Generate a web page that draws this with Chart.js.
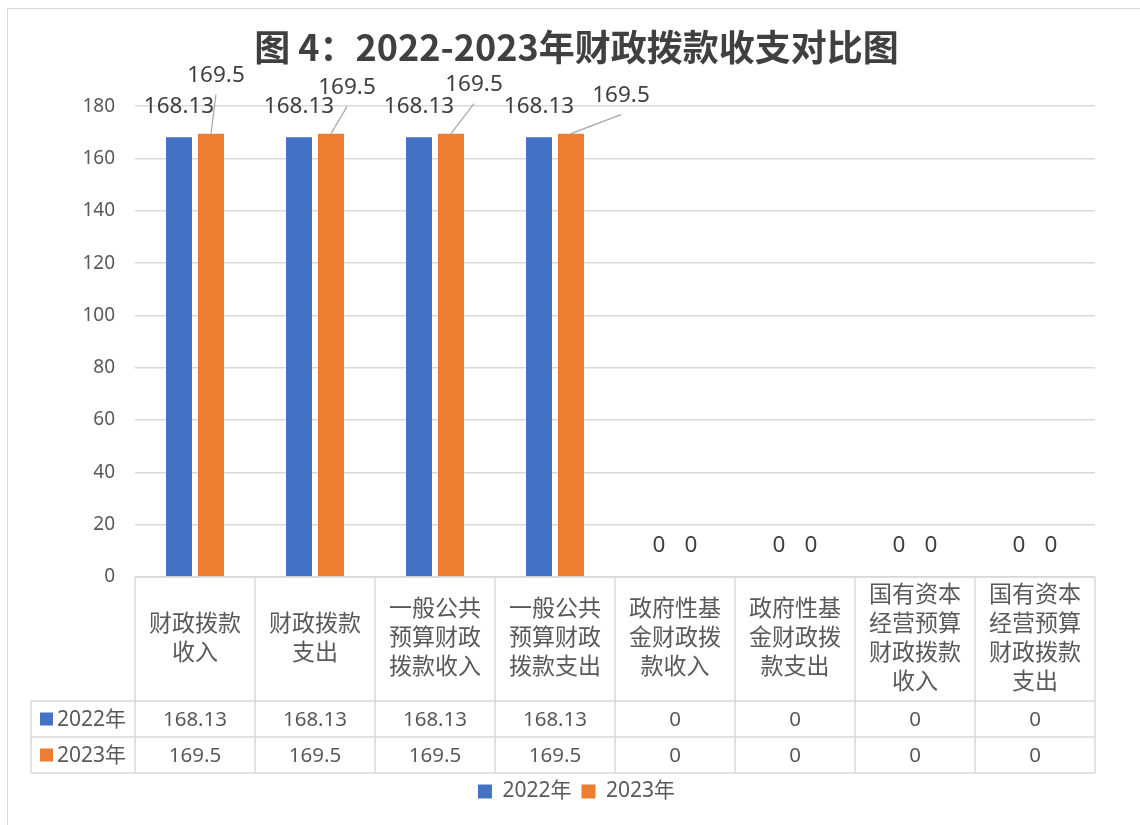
<!DOCTYPE html>
<html><head><meta charset="utf-8">
<script src="https://cdn.jsdelivr.net/npm/chart.js@4.4.0/dist/chart.umd.min.js"></script>
<style>html,body{margin:0;padding:0;background:#fff;}#wrap{width:1140px;height:825px;position:relative;}</style>
</head><body><div id="wrap"><canvas id="c" width="1140" height="825"></canvas></div>
<script>
const titleText = '图 4：2022-2023年财政拨款收支对比图';
const categories = [
  ['财政拨款','收入'],
  ['财政拨款','支出'],
  ['一般公共','预算财政','拨款收入'],
  ['一般公共','预算财政','拨款支出'],
  ['政府性基','金财政拨','款收入'],
  ['政府性基','金财政拨','款支出'],
  ['国有资本','经营预算','财政拨款','收入'],
  ['国有资本','经营预算','财政拨款','支出']
];
const seriesNames = ['2022年', '2023年'];
const values2022 = [168.13, 168.13, 168.13, 168.13, 0, 0, 0, 0];
const values2023 = [169.5, 169.5, 169.5, 169.5, 0, 0, 0, 0];
const yMin = 0, yMax = 180, yStep = 20;

const BLUE = '#4472C4', ORANGE = '#ED7D31';
const TEXT = '#595959', LINE = '#d9d9d9';
const FONT = '"Noto Sans", "Noto Sans CJK SC", sans-serif';
const CJK = '"Noto Sans CJK SC", "Noto Sans", sans-serif';

// label offsets (style) for the 2023 series leader-lined labels, per category
const orangeLabelOffsets = [[5,-58],[16,-46],[23,-49],[50,-38]];

const tablePlugin = {
  id: 'tablePlugin',
  beforeDraw(chart) {
    const ctx = chart.ctx;
    ctx.save();
    ctx.fillStyle = '#fff';
    ctx.fillRect(0, 0, chart.width, chart.height);
    ctx.strokeStyle = '#d9d9d9';
    ctx.lineWidth = 1;
    ctx.strokeRect(7.5, 8.5, chart.width + 10, chart.height + 10);
    ctx.restore();
  },
  afterDraw(chart) {
    const ctx = chart.ctx;
    const xs = chart.scales.x;
    const area = chart.chartArea;
    const top = area.bottom;
    const catBottom = top + 124;
    const rowH = 36;
    const tableBottom = catBottom + rowH * seriesNames.length;
    const leftCol = 31;
    const n = categories.length;
    const bounds = [];
    for (let i = 0; i <= n; i++) {
      if (i === 0) bounds.push(area.left);
      else if (i === n) bounds.push(area.right);
      else bounds.push((xs.getPixelForValue(i - 1) + xs.getPixelForValue(i)) / 2);
    }
    ctx.save();
    ctx.strokeStyle = LINE;
    ctx.lineWidth = 1.5;
    ctx.beginPath();
    ctx.moveTo(area.left, top); ctx.lineTo(area.right, top);
    for (let r = 0; r <= seriesNames.length; r++) {
      const y = catBottom + r * rowH;
      ctx.moveTo(leftCol, y); ctx.lineTo(area.right, y);
    }
    bounds.forEach(x => { ctx.moveTo(x, top); ctx.lineTo(x, tableBottom); });
    ctx.moveTo(leftCol, catBottom); ctx.lineTo(leftCol, tableBottom);
    ctx.stroke();

    const colors = [BLUE, ORANGE];
    const sets = [values2022, values2023];
    ctx.textBaseline = 'middle';
    for (let r = 0; r < seriesNames.length; r++) {
      const yc = catBottom + r * rowH + rowH / 2;
      ctx.fillStyle = colors[r];
      ctx.fillRect(40, yc - 6.5, 13, 13);
      ctx.fillStyle = TEXT;
      ctx.font = '21px ' + FONT;
      ctx.textAlign = 'left';
      ctx.fillText(seriesNames[r], 57, yc + 1);
      ctx.textAlign = 'center';
      ctx.font = '20.5px ' + FONT;
      sets[r].forEach((v, i) => {
        ctx.fillText(String(v), xs.getPixelForValue(i), yc + 1);
      });
    }
    ctx.restore();
  },
  afterDatasetsDraw(chart) {
    const ctx = chart.ctx;
    ctx.save();
    ctx.font = '22.5px ' + FONT;
    ctx.fillStyle = '#404040';
    ctx.textAlign = 'center';
    ctx.textBaseline = 'middle';
    chart.data.datasets.forEach((ds, di) => {
      const meta = chart.getDatasetMeta(di);
      meta.data.forEach((el, i) => {
        const v = ds.data[i];
        if (di === 1 && v !== 0 && orangeLabelOffsets[i]) {
          const [dx, dy] = orangeLabelOffsets[i];
          const lx = el.x + dx, ly = el.y + dy;
          ctx.strokeStyle = '#a6a6a6';
          ctx.lineWidth = 1.2;
          ctx.beginPath();
          ctx.moveTo(el.x, el.y);
          ctx.lineTo(lx, ly + 19);
          ctx.stroke();
          ctx.fillText(String(v), lx, ly);
        } else {
          ctx.fillText(String(v), el.x, el.y - 31);
        }
      });
    });
    ctx.restore();
  }
};

new Chart(document.getElementById('c'), {
  type: 'bar',
  data: {
    labels: categories,
    datasets: [
      { label: seriesNames[0], data: values2022, backgroundColor: BLUE, categoryPercentage: 0.533, barPercentage: 0.8125 },
      { label: seriesNames[1], data: values2023, backgroundColor: ORANGE, categoryPercentage: 0.533, barPercentage: 0.8125 }
    ]
  },
  options: {
    responsive: false,
    animation: false,
    devicePixelRatio: 1,
    layout: { padding: { left: 58, right: 45, top: 0, bottom: 13 } },
    plugins: {
      tooltip: { enabled: false },
      title: {
        display: true, text: titleText, color: '#404040',
        font: { family: CJK, size: 36, weight: 'bold' },
        padding: { top: 26, bottom: 37 }
      },
      legend: {
        position: 'bottom',
        labels: { boxWidth: 14, boxHeight: 14, padding: 10, color: TEXT, font: { family: FONT, size: 21 } }
      }
    },
    scales: {
      x: {
        grid: { display: false, drawTicks: false },
        border: { display: false },
        ticks: {
          color: TEXT, font: { family: CJK, size: 23, lineHeight: 1.26 },
          crossAlign: 'center', padding: 16, maxRotation: 0, autoSkip: false
        },
        afterFit(s) { s.height = 194; }
      },
      y: {
        min: yMin, max: yMax,
        grid: { color: LINE, lineWidth: 1.5, drawTicks: false },
        border: { display: false },
        ticks: { stepSize: yStep, color: TEXT, font: { family: FONT, size: 19 }, padding: 20 },
        afterFit(s) { s.width = 77; }
      }
    }
  },
  plugins: [tablePlugin]
});
</script></body></html>
